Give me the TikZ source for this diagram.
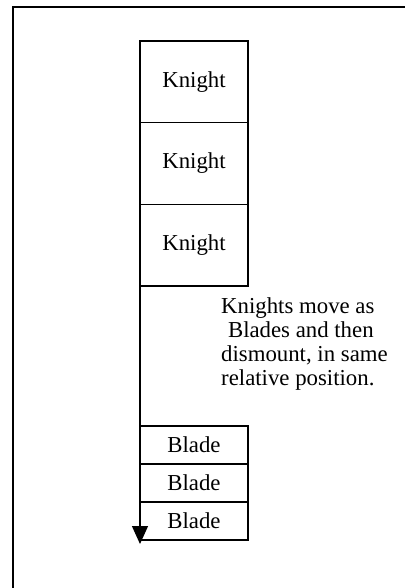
\documentclass[tikz,border=0pt]{standalone}
\usepackage{fontspec}
\setmainfont{Liberation Serif}
\usetikzlibrary{arrows.meta}

\begin{document}
\begin{tikzpicture}[x=1pt,y=-1pt,
        font=\fontsize{22.8}{24}\selectfont,
        unitbox/.style={draw,line width=1.3pt,rectangle,inner sep=0pt,outer sep=0pt,minimum width=108pt},
        knightbox/.style={unitbox,minimum height=81.7pt},
        bladebox/.style={unitbox,minimum height=38pt}]
            \useasboundingbox (0,0) rectangle (405,588);
            \draw[line width=2pt] (12.5,588) -- (12.5,7) -- (405,7);

            \node[knightbox] (knight1) at (194,81.8) {Knight};
            \node[knightbox] (knight2) at (194,163.5) {Knight};
            \node[knightbox] (knight3) at (194,245.2) {Knight};

            \node[bladebox] (blade1) at (194,445) {Blade};
            \node[bladebox] (blade2) at (194,483) {Blade};
            \node[bladebox] (blade3) at (194,521) {Blade};

            \node[anchor=north west,inner sep=0pt,align=left] (note) at (221,297)
                {Knights move as\\\hspace*{0.3em}Blades and then\\dismount, in same\\relative position.};

            \coordinate (stop) at (140,544);
            \draw[line width=1.3pt,-{Triangle[width=16pt,length=18pt]}] (knight3.south west) -- (stop);
        \end{tikzpicture}
\end{document}
